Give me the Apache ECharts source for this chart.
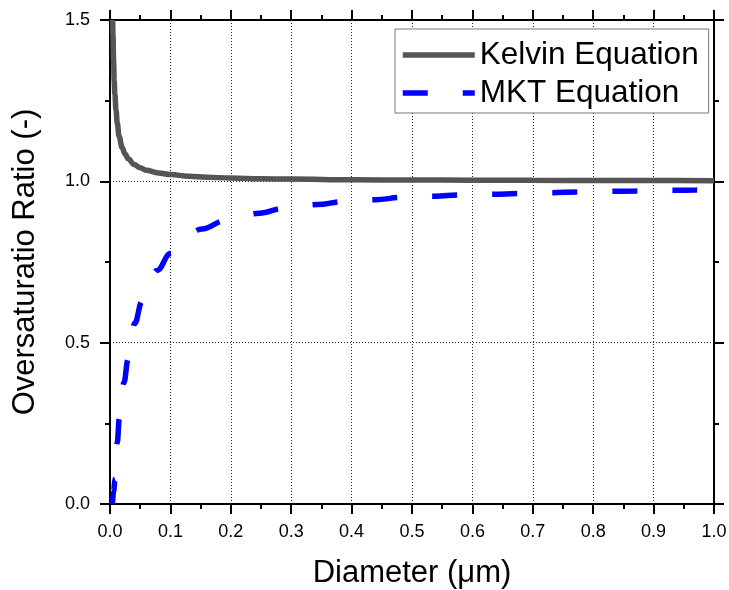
<!DOCTYPE html>
<html>
<head>
<meta charset="utf-8">
<script src="https://cdn.jsdelivr.net/npm/echarts@6/dist/echarts.min.js"></script>
<style>
html,body{margin:0;padding:0;background:#fff;}
#chart{width:729px;height:590px;}
</style>
</head>
<body>
<div id="chart"></div>
<script>
// ---- data ----
const seriesNames = ["Kelvin Equation", "MKT Equation"];

const kelvinX = [0.0045, 0.005, 0.006, 0.007, 0.008, 0.01, 0.012, 0.015, 0.02, 0.025, 0.03, 0.04, 0.05, 0.06, 0.08, 0.1, 0.13, 0.16, 0.2, 0.25, 0.3, 0.4, 0.5, 0.6, 0.7, 0.8, 0.9, 1.0];
const kelvinY = [1.50, 1.45, 1.37, 1.31, 1.27, 1.22, 1.18, 1.14, 1.105, 1.085, 1.07, 1.052, 1.042, 1.034, 1.026, 1.021, 1.016, 1.013, 1.010, 1.008, 1.007, 1.005, 1.004, 1.0035, 1.003, 1.0027, 1.0024, 1.002];

const mktX = [0.004, 0.006, 0.0083, 0.012, 0.0154, 0.023, 0.03, 0.041, 0.053, 0.078, 0.1, 0.152, 0.192, 0.247, 0.289, 0.344, 0.385, 0.44, 0.482, 0.538, 0.579, 0.635, 0.676, 0.732, 0.773, 0.83, 0.871, 0.927, 0.97, 1.0];
const mktY = [0.0, 0.04, 0.077, 0.19, 0.264, 0.376, 0.449, 0.56, 0.628, 0.724, 0.776, 0.852, 0.879, 0.901, 0.917, 0.928, 0.937, 0.943, 0.95, 0.954, 0.958, 0.960, 0.962, 0.965, 0.967, 0.969, 0.970, 0.972, 0.973, 0.974];

const xTicks = { min: 0, max: 1.0, interval: 0.1 };
const yTicks = { min: 0, max: 1.5, interval: 0.5 };

// ---- chart ----
const FONT = "Liberation Sans, Arial, Helvetica, sans-serif";
const chart = echarts.init(document.getElementById('chart'), null, { renderer: 'canvas' });

function pairs(xs, ys) { return xs.map((x, i) => [x, ys[i]]); }

const axisLineStyle = { color: '#000', width: 2 };
const tickStyle = { show: true, inside: false, length: 10, lineStyle: { color: '#000', width: 2 } };
const minorStyle = { show: true, splitNumber: 2, length: 5, lineStyle: { color: '#000', width: 2 } };
const gridLine = { show: true, lineStyle: { color: '#222', width: 1, type: [1, 2] } };
const DASH = [25, 35];

chart.setOption({
  animation: false,
  backgroundColor: '#fff',
  grid: { left: 110, right: 15, top: 20, bottom: 86, containLabel: false, outerBoundsMode: 'none' },
  legend: {
    left: 395, top: 29,
    orient: 'vertical',
    padding: [10, 10, 4, 5],
    itemGap: 6,
    itemWidth: 72,
    itemHeight: 14,
    borderColor: '#777',
    borderWidth: 1,
    backgroundColor: '#fff',
    itemStyle: { opacity: 0 },
    lineStyle: { width: 5.5 },
    textStyle: { fontFamily: FONT, fontSize: 31.5, color: '#000' },
    data: seriesNames
  },
  xAxis: [
    {
      type: 'value', position: 'bottom', min: xTicks.min, max: xTicks.max, interval: xTicks.interval,
      name: 'Diameter (μm)', nameLocation: 'middle', nameGap: 54,
      nameTextStyle: { fontFamily: FONT, fontSize: 31, color: '#000' },
      axisLine: { show: true, onZero: false, lineStyle: axisLineStyle },
      axisTick: tickStyle, minorTick: minorStyle,
      axisLabel: { show: true, margin: 19, fontFamily: FONT, fontSize: 18, color: '#000',
        showMinLabel: true, showMaxLabel: true, formatter: v => v.toFixed(1) },
      splitLine: gridLine
    },
    {
      type: 'value', position: 'top', min: xTicks.min, max: xTicks.max, interval: xTicks.interval,
      axisLine: { show: true, onZero: false, lineStyle: axisLineStyle },
      axisTick: tickStyle, minorTick: minorStyle,
      axisLabel: { show: false }, splitLine: { show: false }
    }
  ],
  yAxis: [
    {
      type: 'value', position: 'left', min: yTicks.min, max: yTicks.max, interval: yTicks.interval,
      name: 'Oversaturatio Ratio (-)', nameLocation: 'middle', nameGap: 69,
      nameTextStyle: { fontFamily: FONT, fontSize: 31, color: '#000' },
      axisLine: { show: true, onZero: false, lineStyle: axisLineStyle },
      axisTick: tickStyle, minorTick: minorStyle,
      axisLabel: { show: true, margin: 20, fontFamily: FONT, fontSize: 18, color: '#000',
        showMinLabel: true, showMaxLabel: true, formatter: v => v.toFixed(1) },
      splitLine: gridLine
    },
    {
      type: 'value', position: 'right', min: yTicks.min, max: yTicks.max, interval: yTicks.interval,
      axisLine: { show: true, onZero: false, lineStyle: axisLineStyle },
      axisTick: tickStyle, minorTick: minorStyle,
      axisLabel: { show: false }, splitLine: { show: false }
    }
  ],
  series: [
    {
      name: seriesNames[0], type: 'line', xAxisIndex: 0, yAxisIndex: 0,
      data: pairs(kelvinX, kelvinY),
      showSymbol: false, symbol: 'none',
      smooth: 0.4, smoothMonotone: 'x',
      clip: true,
      lineStyle: { color: '#555555', width: 5.5, type: 'solid' },
      itemStyle: { color: '#555555' },
      z: 3
    },
    {
      name: seriesNames[1], type: 'line', xAxisIndex: 0, yAxisIndex: 0,
      data: pairs(mktX, mktY),
      showSymbol: false, symbol: 'none',
      smooth: 0.4, smoothMonotone: 'x',
      clip: true,
      lineStyle: { color: '#0000ff', width: 5.5, type: DASH, cap: 'butt' },
      itemStyle: { color: '#0000ff' },
      z: 2
    }
  ]
});
</script>
</body>
</html>
